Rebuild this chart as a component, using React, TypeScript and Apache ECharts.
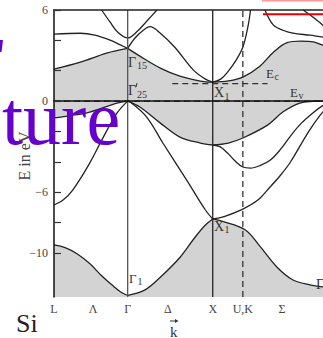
import { useEffect, useRef } from "react";
import * as echarts from "echarts";

// Energy window (eV) and k-path extent (units of 2π/a)
const E_MIN = -12.9;
const E_MAX = 6;
const K_MAX = 3.28;

// k-path tick positions and names (the closing Γ lies past the visible edge)
const kTicks = [0, 0.46, 0.866, 1.34, 1.866, 2.22, 2.68];
const kTickNames = ["L", "Λ", "Γ", "Δ", "X", "U,K", "Σ"];

// energy ticks
const eTicks = [6, 4, 2, 0, -2, -4, -6, -8, -10];
const eTickLabels = [6, 0, -6, -10];

// symmetry-point verticals
const solidSymK = [0.866, 1.866];
const dashedSymK = [2.22];

// band edges
const E_V = 0;
const E_C = 1.15;
const ecSpanK = [1.39, 2.51];

// lowest conduction band (upper edge of the shaded gap-region)
const condLG = [[0, 2.11], [0.31, 2.57], [0.62, 3.16], [0.866, 3.47]];
const condGX = [[0.866, 3.47], [1.01, 2.96], [1.25, 2.17], [1.48, 1.64], [1.72, 1.32], [1.866, 1.25]];
const condXG = [[1.866, 1.25], [2.05, 1.33], [2.22, 1.58], [2.42, 2.3], [2.58, 3.22], [2.74, 3.85], [2.9, 3.95], [3.05, 3.9], [3.16, 3.68], [3.28, 3.47]];

// highest valence band (lower edge of the shaded region)
const valLG = [[0, -1.1], [0.2, -0.95], [0.42, -0.72], [0.74, -0.13], [0.866, 0]];
const valGX = [[0.866, 0], [1.01, -0.39], [1.25, -1.45], [1.48, -2.37], [1.72, -2.76], [1.866, -2.89]];
const valXG = [[1.866, -2.89], [2.05, -2.76], [2.22, -2.43], [2.51, -1.58], [2.69, -0.72], [2.89, -0.13], [3.05, -0.02], [3.16, 0], [3.28, 0]];

// lowest valence band
const lowLG = [[0, -9.47], [0.13, -9.65], [0.27, -10.05], [0.42, -10.7], [0.56, -11.5], [0.69, -12.15], [0.78, -12.55], [0.866, -12.8]];
const lowGX = [[0.866, -12.8], [1.07, -12.43], [1.25, -11.6], [1.48, -10.3], [1.66, -8.95], [1.78, -8.16], [1.866, -7.76]];
const lowXG = [[1.866, -7.76], [2.0, -7.95], [2.25, -8.49], [2.42, -9.55], [2.62, -10.92], [2.81, -11.78], [3.01, -12.1], [3.16, -12.24], [3.28, -12.3]];

// remaining bands
const lambda1 = [[0, -6.84], [0.11, -6.5], [0.22, -5.86], [0.42, -4.08], [0.58, -2.37], [0.74, -0.79], [0.866, 0]];
const lambda3c = [[0, 4.41], [0.31, 4.47], [0.48, 4.34], [0.66, 4.01], [0.78, 3.7], [0.866, 3.47]];
const gamma2 = [[0.56, 6.0], [0.66, 5.2], [0.75, 4.54], [0.866, 4.16], [0.98, 4.6], [1.09, 5.26], [1.21, 6.0]];
const deltaHump = [[0.866, 3.47], [0.95, 4.14], [1.05, 4.67], [1.13, 4.9], [1.25, 4.47], [1.42, 3.55], [1.64, 2.04], [1.78, 1.45], [1.866, 1.25]];
const deltaToX1 = [[0.866, 0], [0.9, -0.07], [1.09, -1.05], [1.28, -2.76], [1.56, -5.2], [1.78, -7.17], [1.866, -7.76]];
const xUpper = [[1.866, 1.25], [1.96, 1.45], [2.04, 1.91], [2.13, 2.6], [2.22, 3.55], [2.28, 4.9], [2.31, 6.0]];
const sigmaA = [[2.48, 6.0], [2.58, 5.0], [2.7, 4.65], [2.81, 4.47], [3.01, 4.34], [3.16, 4.22], [3.28, 4.16]];
const sigmaB = [[2.93, 6.0], [3.05, 5.5], [3.16, 5.0], [3.28, 4.3]];
const sigmaC1 = [[1.866, -2.89], [1.95, -3.0], [2.04, -3.42], [2.13, -3.95], [2.22, -4.34], [2.31, -4.41], [2.42, -4.25], [2.54, -3.9], [2.66, -3.2], [2.78, -2.3], [2.9, -1.5], [3.05, -0.75], [3.16, -0.3], [3.28, 0]];
const sigmaC2 = [[1.866, -7.76], [2.0, -7.6], [2.22, -7.11], [2.4, -6.5], [2.54, -5.66], [2.66, -4.9], [2.78, -4.01], [2.99, -2.04], [3.13, -0.92], [3.28, 0]];

const SERIF = '"Liberation Serif", "DejaVu Serif", serif';
const SHADE = "#d3d3d3";
const INK = "#222";

const band = (data: number[][], z: number, extra: any = {}) => ({
  type: "line",
  data,
  showSymbol: false,
  smooth: 0.35,
  silent: true,
  z,
  lineStyle: { color: INK, width: 1.3 },
  ...extra,
});

const filled = (data: number[][], z: number, color: string) =>
  band(data, z, { areaStyle: { color, opacity: 1, origin: "start" } });

const straight = (data: number[][], color: string, dashed: boolean, width = 1.3) => ({
  type: "line",
  data,
  showSymbol: false,
  silent: true,
  z: 5,
  lineStyle: { color, width, type: dashed ? [6, 4] : "solid" },
});

const txt = (text: string, x: number, y: number, size: number, color = "#333", extra: any = {}) => ({
  type: "text",
  x,
  y,
  z: 20,
  silent: true,
  style: {
    text,
    fontSize: size,
    fontFamily: SERIF,
    fill: color,
    verticalAlign: "middle",
    align: "left",
    ...extra,
  },
});

export default function App() {
  const ref = useRef<HTMLDivElement>(null);

  useEffect(() => {
    if (!ref.current) return;
    const chart = echarts.init(ref.current, null, { renderer: "svg" });

    const series: any[] = [
      // shaded region between conduction minimum and valence maximum
      filled(condLG, 1, SHADE),
      filled(condGX, 1, SHADE),
      filled(condXG, 1, SHADE),
      filled(valLG, 2, "#ffffff"),
      filled(valGX, 2, "#ffffff"),
      filled(valXG, 2, "#ffffff"),
      // shaded region under the lowest valence band
      filled(lowLG, 3, SHADE),
      filled(lowGX, 3, SHADE),
      filled(lowXG, 3, SHADE),
      band(lambda1, 4),
      band(lambda3c, 4),
      band(gamma2, 4),
      band(deltaHump, 4),
      band(deltaToX1, 4),
      band(xUpper, 4),
      band(sigmaA, 4),
      band(sigmaB, 4),
      band(sigmaC1, 4),
      band(sigmaC2, 4),
      straight([[solidSymK[0], E_MIN], [solidSymK[0], E_MAX]], "#555", false),
      straight([[solidSymK[1], E_MIN], [solidSymK[1], E_MAX]], "#222", false),
      ...dashedSymK.map((k) => straight([[k, E_MIN], [k, E_MAX]], "#333", true)),
      straight([[0, E_V], [K_MAX, E_V]], "#222", true),
      straight([[ecSpanK[0], E_C], [ecSpanK[1], E_C]], "#333", true),
    ];

    chart.setOption({
      animation: false,
      backgroundColor: "#ffffff",
      grid: { left: 54, right: 12, top: 10, bottom: 41 },
      xAxis: [
        {
          type: "value",
          min: 0,
          max: K_MAX,
          z: 10,
          splitLine: { show: false },
          axisLine: { lineStyle: { color: "#111", width: 1.5 } },
          axisTick: { show: false },
          axisLabel: {
            customValues: kTicks,
            margin: 6,
            fontFamily: SERIF,
            fontSize: 12,
            color: "#444",
            formatter: (v: number) => {
              const i = kTicks.findIndex((t) => Math.abs(t - v) < 1e-6);
              return i >= 0 ? kTickNames[i] : "";
            },
          },
        },
        {
          type: "value",
          position: "top",
          min: 0,
          max: K_MAX,
          z: 10,
          splitLine: { show: false },
          axisLine: { lineStyle: { color: "#222", width: 1.5 } },
          axisTick: { show: false },
          axisLabel: { show: false },
        },
      ],
      yAxis: {
        type: "value",
        min: E_MIN,
        max: E_MAX,
        z: 10,
        splitLine: { show: false },
        axisLine: { lineStyle: { color: "#111", width: 1.5 } },
        axisTick: {
          inside: true,
          length: 7,
          customValues: eTicks,
          lineStyle: { color: "#333", width: 1.2 },
        },
        axisLabel: {
          customValues: eTickLabels,
          margin: 6,
          fontFamily: SERIF,
          fontSize: 12,
          color: "#444",
          formatter: (v: number) => (v < 0 ? "\u2212" + Math.abs(v) : String(v)),
        },
      },
      series,
      graphic: [
        // axis title
        {
          type: "text",
          x: 24,
          y: 156,
          rotation: Math.PI / 2,
          z: 15,
          silent: true,
          style: {
            text: "E in eV",
            fontSize: 16,
            fontFamily: SERIF,
            fill: "#444",
            align: "center",
            verticalAlign: "middle",
          },
        },
        // symmetry labels
        txt("Γ", 128, 62, 14),
        txt("15", 137, 65, 10),
        txt("Γ", 128, 90, 14),
        {
          type: "line",
          z: 20,
          silent: true,
          shape: { x1: 137, y1: 83, x2: 136, y2: 87 },
          style: { stroke: "#333", lineWidth: 1 },
        },
        txt("25", 137, 94.5, 10),
        txt("X", 214, 92, 14),
        txt("1", 224.5, 96.5, 10),
        txt("E", 266, 73.5, 13),
        txt("c", 274.5, 76, 10),
        txt("E", 290, 92.5, 13),
        txt("v", 298.5, 95, 10),
        txt("X", 214, 226, 14),
        txt("1", 224.5, 229.5, 10),
        txt("Γ", 129, 278.5, 13),
        txt("1", 137.5, 281.5, 10),
        txt("Γ", 316, 284, 14),
        // material name and wave vector
        txt("Si", 16, 323, 26, "#222"),
        txt("k", 170, 331.5, 15, "#333"),
        {
          type: "line",
          z: 20,
          silent: true,
          shape: { x1: 170, y1: 321, x2: 176, y2: 321 },
          style: { stroke: "#333", lineWidth: 1 },
        },
        {
          type: "polygon",
          z: 20,
          silent: true,
          shape: { points: [[178.5, 321], [175, 319], [175, 323]] },
          style: { fill: "#333" },
        },
        // overlaid heading fragments
        txt("ture", 2, 118, 76, "#6600cc"),
        {
          type: "polygon",
          z: 20,
          silent: true,
          shape: { points: [[0, 40], [3, 40], [1.5, 52], [0, 52]] },
          style: { fill: "#6600cc" },
        },
        {
          type: "rect",
          z: 20,
          silent: true,
          shape: { x: 262, y: 0, width: 61, height: 1.5 },
          style: { fill: "#ff9a9a" },
        },
        {
          type: "rect",
          z: 20,
          silent: true,
          shape: { x: 263, y: 13.3, width: 60, height: 2 },
          style: { fill: "#e60000" },
        },
      ],
    });

    return () => chart.dispose();
  }, []);

  return (
    <div
      ref={ref}
      style={{ position: "fixed", left: 0, top: 0, width: 345, height: 338 }}
    />
  );
}
